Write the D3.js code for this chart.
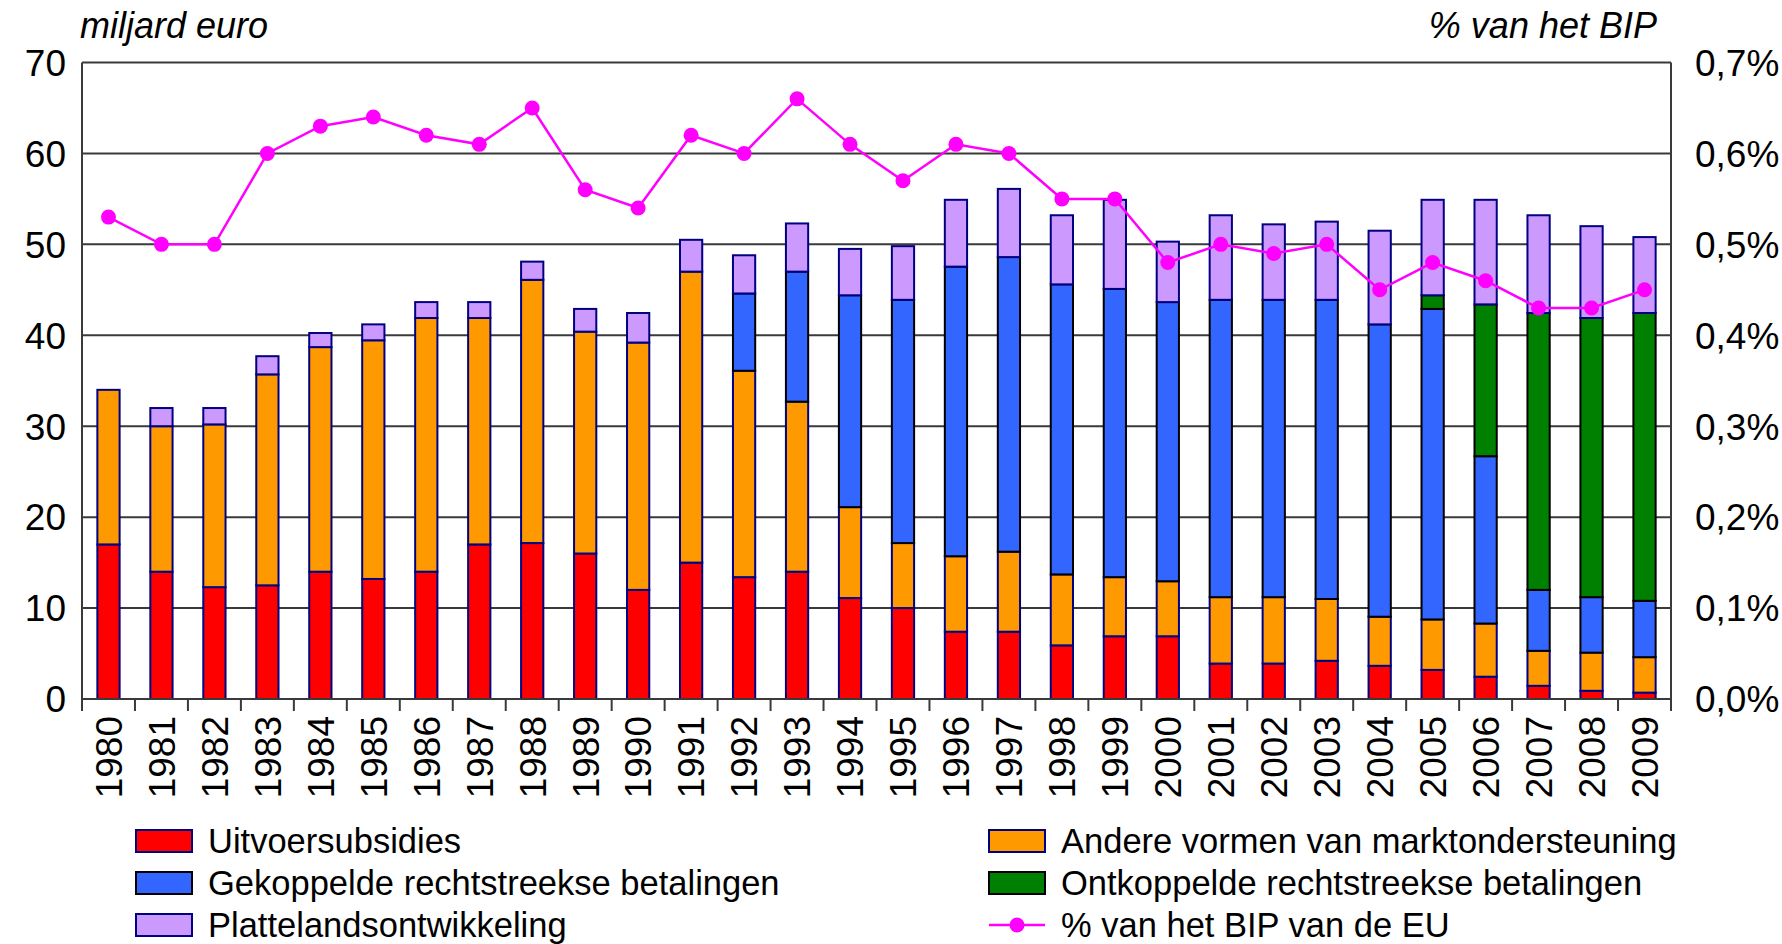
<!DOCTYPE html>
<html>
<head>
<meta charset="utf-8">
<script src="https://cdn.jsdelivr.net/npm/d3@7"></script>
<style>
  body { margin: 0; background: #fff; }
  text { font-family: "Liberation Sans", Arial, sans-serif; fill: #000; }
</style>
</head>
<body>
<script>
// Data (miljard euro)
var years = ['1980','1981','1982','1983','1984','1985','1986','1987','1988','1989',
             '1990','1991','1992','1993','1994','1995','1996','1997','1998','1999',
             '2000','2001','2002','2003','2004','2005','2006','2007','2008','2009']
var uitvoer = [17.0,14.0,12.3,12.5,14.0,13.2,14.0,17.0,17.15,16.0,
               12.0,15.0,13.4,14.0,11.1,10.0,7.4,7.4,5.9,6.9,
               6.9,3.9,3.9,4.2,3.65,3.2,2.45,1.45,0.9,0.7]
var andere = [17.0,16.0,17.9,23.2,24.7,26.25,27.9,24.9,28.95,24.4,
              27.2,32.0,22.7,18.7,10.0,7.15,8.3,8.8,7.8,6.5,
              6.05,7.3,7.3,6.8,5.4,5.55,5.85,3.85,4.2,3.9]
var gekoppeld = [0,0,0,0,0,0,0,0,0,0,
                 0,0,8.5,14.3,23.3,26.75,31.85,32.4,31.9,31.7,
                 30.7,32.7,32.7,32.9,32.15,34.15,18.4,6.7,6.1,6.2]
var ontkoppeld = [0,0,0,0,0,0,0,0,0,0,
                  0,0,0,0,0,0,0,0,0,0,
                  0,0,0,0,0,1.5,16.7,30.45,30.7,31.65]
var platteland = [0,2.0,1.8,2.0,1.55,1.75,1.75,1.75,2.0,2.5,
                  3.25,3.5,4.2,5.3,5.1,5.9,7.35,7.5,7.6,9.8,
                  6.65,9.3,8.3,8.6,10.3,10.5,11.5,10.75,10.1,8.35]
// % van het BIP
var bipPct = [0.53,0.50,0.50,0.60,0.63,0.64,0.62,0.61,0.65,0.56,
              0.54,0.62,0.60,0.66,0.61,0.57,0.61,0.60,0.55,0.55,
              0.48,0.50,0.49,0.50,0.45,0.48,0.46,0.43,0.43,0.45]
var leftTicks = [0,10,20,30,40,50,60,70]
var rightTicks = [0,0.1,0.2,0.3,0.4,0.5,0.6,0.7]

var series = [
  {key: 'uitvoer', name: 'Uitvoersubsidies', values: uitvoer, fill: '#FF0000', stroke: '#000080'},
  {key: 'andere', name: 'Andere vormen van marktondersteuning', values: andere, fill: '#FF9900', stroke: '#000080'},
  {key: 'gekoppeld', name: 'Gekoppelde rechtstreekse betalingen', values: gekoppeld, fill: '#3366FF', stroke: '#000000'},
  {key: 'ontkoppeld', name: 'Ontkoppelde rechtstreekse betalingen', values: ontkoppeld, fill: '#008000', stroke: '#000000'},
  {key: 'platteland', name: 'Plattelandsontwikkeling', values: platteland, fill: '#CC99FF', stroke: '#000080'}
]

var W = 1782, H = 944
var m = {left: 82, right: 1671, top: 62.5, bottom: 699}

var rows = years.map(function (y, i) {
  var r = {year: y}
  series.forEach(function (s) { r[s.key] = s.values[i] })
  return r
})
var stack = d3.stack().keys(series.map(function (s) { return s.key }))(rows)

var svg = d3.select('body').append('svg').attr('width', W).attr('height', H)

var x = d3.scaleBand().domain(years).range([m.left, m.right]).paddingInner(0).paddingOuter(0)
var y = d3.scaleLinear().domain([0, 70]).range([m.bottom, m.top])
var y2 = d3.scaleLinear().domain([0, 0.7]).range([m.bottom, m.top])
var barW = x.bandwidth() * 0.42

// gridlines
svg.append('g').selectAll('line').data(leftTicks).enter().append('line')
  .attr('x1', m.left).attr('x2', m.right)
  .attr('y1', function (d) { return y(d) }).attr('y2', function (d) { return y(d) })
  .attr('stroke', '#3a3a3a').attr('stroke-width', 2)

// bars
var layers = svg.append('g').selectAll('g').data(stack).enter().append('g')
  .attr('fill', function (d, i) { return series[i].fill })
  .attr('stroke', function (d, i) { return series[i].stroke })
  .attr('stroke-width', 2)
layers.selectAll('rect').data(function (d) { return d.filter(function (p) { return p[1] - p[0] > 0 }) })
  .enter().append('rect')
  .attr('x', function (d) { return x(d.data.year) + (x.bandwidth() - barW) / 2 })
  .attr('width', barW)
  .attr('y', function (d) { return y(d[1]) })
  .attr('height', function (d) { return y(d[0]) - y(d[1]) })

// axes frame
var axG = svg.append('g').attr('stroke', '#3a3a3a').attr('stroke-width', 2)
axG.append('line').attr('x1', m.left).attr('x2', m.left).attr('y1', m.top).attr('y2', m.bottom + 12)
axG.append('line').attr('x1', m.right).attr('x2', m.right).attr('y1', m.top).attr('y2', m.bottom + 12)
axG.append('line').attr('x1', m.left).attr('x2', m.right).attr('y1', m.bottom).attr('y2', m.bottom)
axG.selectAll('line.tk').data(years.slice(1)).enter().append('line')
  .attr('x1', function (d) { return x(d) }).attr('x2', function (d) { return x(d) })
  .attr('y1', m.bottom).attr('y2', m.bottom + 12)

// line on right axis
var line = d3.line()
  .x(function (d, i) { return x(years[i]) + x.bandwidth() / 2 })
  .y(function (d) { return y2(d) })
svg.append('path').datum(bipPct).attr('d', line)
  .attr('fill', 'none').attr('stroke', '#FF00FF').attr('stroke-width', 2.5)
svg.append('g').selectAll('circle').data(bipPct).enter().append('circle')
  .attr('cx', function (d, i) { return x(years[i]) + x.bandwidth() / 2 })
  .attr('cy', function (d) { return y2(d) })
  .attr('r', 7.5).attr('fill', '#FF00FF')

// tick labels
svg.append('g').selectAll('text').data(leftTicks).enter().append('text')
  .attr('x', 66).attr('y', function (d) { return y(d) })
  .attr('dy', '0.36em').attr('text-anchor', 'end').attr('font-size', 37)
  .text(function (d) { return d })
var fmtPct = function (d) { return d.toFixed(1).replace('.', ',') + '%' }
svg.append('g').selectAll('text').data(rightTicks).enter().append('text')
  .attr('x', 1695).attr('y', function (d) { return y2(d) })
  .attr('dy', '0.36em').attr('text-anchor', 'start').attr('font-size', 37)
  .text(fmtPct)
svg.append('g').selectAll('text').data(years).enter().append('text')
  .attr('transform', function (d) { return 'translate(' + (x(d) + x.bandwidth() / 2) + ',716) rotate(-90)' })
  .attr('dy', '0.36em').attr('text-anchor', 'end').attr('font-size', 37)
  .text(function (d) { return d })

// axis titles
svg.append('text').attr('x', 80).attr('y', 38).attr('font-size', 36).attr('font-style', 'italic').text('miljard euro')
svg.append('text').attr('x', 1657).attr('y', 38).attr('font-size', 36).attr('font-style', 'italic')
  .attr('text-anchor', 'end').text('% van het BIP')

// legend
var legendItems = [
  {s: series[0], x: 136, y: 841}, {s: series[1], x: 989, y: 841},
  {s: series[2], x: 136, y: 883}, {s: series[3], x: 989, y: 883},
  {s: series[4], x: 136, y: 925}
]
var lg = svg.append('g')
legendItems.forEach(function (it) {
  lg.append('rect').attr('x', it.x).attr('y', it.y - 11).attr('width', 56).attr('height', 22)
    .attr('fill', it.s.fill).attr('stroke', it.s.stroke).attr('stroke-width', 2)
  lg.append('text').attr('x', it.x + 72).attr('y', it.y).attr('dy', '0.36em')
    .attr('font-size', 34.5).text(it.s.name)
})
lg.append('line').attr('x1', 989).attr('x2', 1045).attr('y1', 925).attr('y2', 925)
  .attr('stroke', '#FF00FF').attr('stroke-width', 2.5)
lg.append('circle').attr('cx', 1017).attr('cy', 925).attr('r', 7.5).attr('fill', '#FF00FF')
lg.append('text').attr('x', 1061).attr('y', 925).attr('dy', '0.36em').attr('font-size', 34.5)
  .text('% van het BIP van de EU')
</script>
</body>
</html>
